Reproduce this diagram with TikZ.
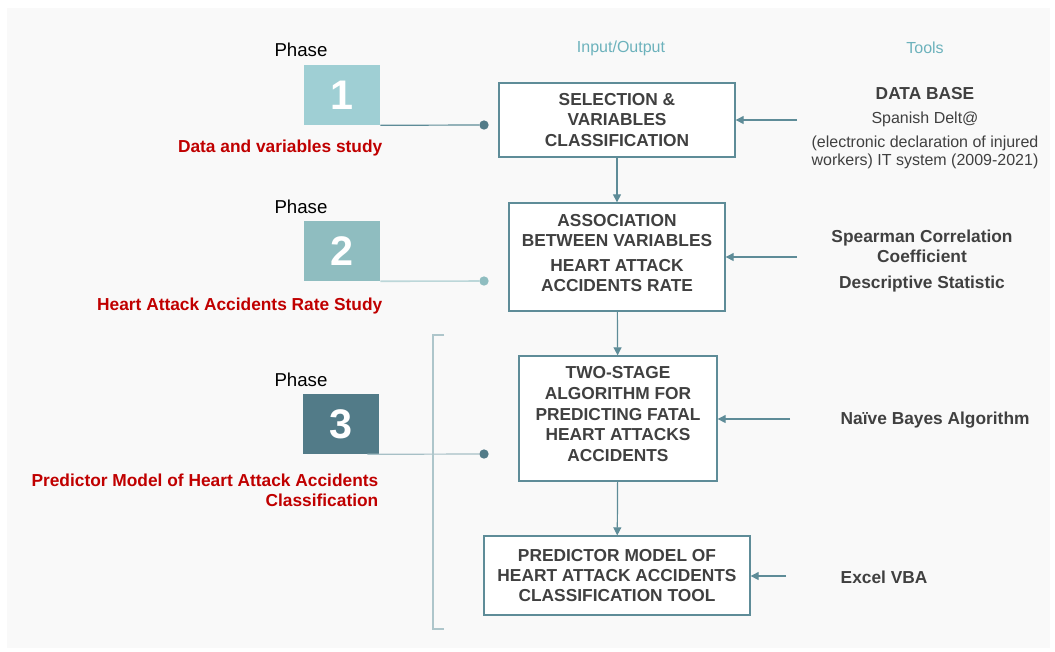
\documentclass[tikz,border=0pt]{standalone}
\usepackage{fontspec}
\setmainfont{Liberation Sans}
\usepackage{xcolor}
\usetikzlibrary{arrows.meta}

\definecolor{bgcol}{HTML}{F9F9F9}
\definecolor{linecol}{HTML}{5E8C98}
\definecolor{txtcol}{HTML}{404040}
\definecolor{redcol}{HTML}{C00000}
\definecolor{headcol}{HTML}{6CB2BC}
\definecolor{phaseA}{HTML}{9FCFD4}
\definecolor{phaseB}{HTML}{8FBDC0}
\definecolor{phaseC}{HTML}{527B88}

\begin{document}
\begin{tikzpicture}[x=0.75pt, y=-0.75pt,
    arr/.style={draw=linecol, line width=0.9pt, -{Triangle[length=6pt,width=6pt]}},
    stepbox/.style={draw=linecol, line width=1pt, fill=white, align=center, font=\fontsize{13}{15.3}\selectfont\bfseries, text=txtcol, inner sep=0pt},
    phasebox/.style={minimum width=57pt, minimum height=45pt, inner sep=0pt, text=white, font=\fontsize{31}{31}\selectfont\bfseries},
    phaselabel/.style={font=\fontsize{14}{16}\selectfont},
    studylabel/.style={font=\fontsize{13}{15}\selectfont\bfseries, text=redcol, align=right, anchor=east},
    toollabel/.style={font=\fontsize{12}{13.5}\selectfont, text=txtcol, align=center},
    boldtool/.style={font=\fontsize{13}{15}\selectfont\bfseries, text=txtcol, align=center},
    dot/.style={circle, inner sep=0pt, minimum size=7pt}]

    % Background
    \useasboundingbox (0,0) rectangle (1055,651);
    \fill[bgcol] (7,8) rectangle (1050,648);

    % Column headings
    \node[text=headcol, font=\fontsize{12}{13}\selectfont] (head-io) at (621,48) {Input/Output};
    \node[text=headcol, font=\fontsize{12}{13}\selectfont] (head-tools) at (925,48) {Tools};

    % Phases
    \node[phaselabel] (Phase-1) at (301,50) {Phase};
    \node[phasebox, fill=phaseA] (Num-1) at (342,95) {1};
    \node[phaselabel] (Phase-2) at (301,207) {Phase};
    \node[phasebox, fill=phaseB] (Num-2) at (342,251) {2};
    \node[phaselabel] (Phase-3) at (301,380) {Phase};
    \node[phasebox, fill=phaseC] (Num-3) at (341,424) {3};

    \node[studylabel] (Study-1) at (387,148) {Data and variables study};
    \node[studylabel] (Study-2) at (387,306) {Heart Attack Accidents Rate Study};
    \node[studylabel] (Study-3) at (383,490) {Predictor Model of Heart Attack Accidents\\Classification};

    % Dots
    \node[dot, fill=phaseC] (Dot-1) at (484,125) {};
    \node[dot, fill=phaseB] (Dot-2) at (484,281) {};
    \node[dot, fill=phaseC] (Dot-3) at (484,454) {};
    \draw[linecol, line width=0.9pt] (Num-1.south east) -- (Dot-1);
    \draw[phaseB!60, line width=1.2pt] (Num-2.south east) -- (Dot-2);
    \draw[linecol!55, line width=0.9pt] ([xshift=-9pt]Num-3.south east) -- (Dot-3);

    % Bracket for phase 3
    \draw[linecol!50, line width=0.9pt] (444,335) -- (433,335) -- (433,629) -- (444,629);

    % Steps
    \node[stepbox, minimum width=177pt, minimum height=55.5pt] (Sel) at (617,120)
        {SELECTION \&\\VARIABLES\\CLASSIFICATION};
    \node[stepbox, minimum width=162pt, minimum height=81pt, text depth=6pt] (Assoc) at (617,257)
        {ASSOCIATION\\BETWEEN VARIABLES\\[3pt]HEART ATTACK\\ACCIDENTS RATE};
    \node[stepbox, minimum width=148.5pt, minimum height=93.75pt, text depth=6.5pt,
          font=\fontsize{13}{15.5}\selectfont\bfseries] (Algo) at (618,418.5)
        {TWO-STAGE\\ALGORITHM FOR\\PREDICTING FATAL\\HEART ATTACKS\\ACCIDENTS};
    \node[stepbox, minimum width=199.5pt, minimum height=59.25pt] (Model) at (617,575.5)
        {PREDICTOR MODEL OF\\HEART ATTACK ACCIDENTS\\CLASSIFICATION TOOL};

    \draw[arr] (Sel) -- (Assoc);
    \draw[arr] (Assoc) -- (Algo);
    \draw[arr] (Algo) -- (Model);

    % Tools
    \node[toollabel] (Tool-1) at (925,128)
        {\textbf{\fontsize{13}{15}\selectfont DATA BASE}\\[4.5pt]Spanish Delt@\\[4.5pt](electronic declaration of injured\\workers) IT system (2009-2021)};
    \node[boldtool] (Tool-2) at (922,261)
        {Spearman Correlation\\Coefficient\\[4pt]Descriptive Statistic};
    \node[boldtool, anchor=west] (Tool-3) at (836,420) {Naïve Bayes Algorithm};
    \node[boldtool, anchor=west] (Tool-4) at (836,577) {Excel VBA};

    \coordinate (In-1) at (797,120);
    \coordinate (In-2) at (797,257);
    \coordinate (In-3) at (790,419);
    \coordinate (In-4) at (786,576);
    \draw[arr] (In-1) -- (Sel.east |- In-1);
    \draw[arr] (In-2) -- (Assoc.east |- In-2);
    \draw[arr] (In-3) -- (Algo.east |- In-3);
    \draw[arr] (In-4) -- (Model.east |- In-4);

\end{tikzpicture}
\end{document}
